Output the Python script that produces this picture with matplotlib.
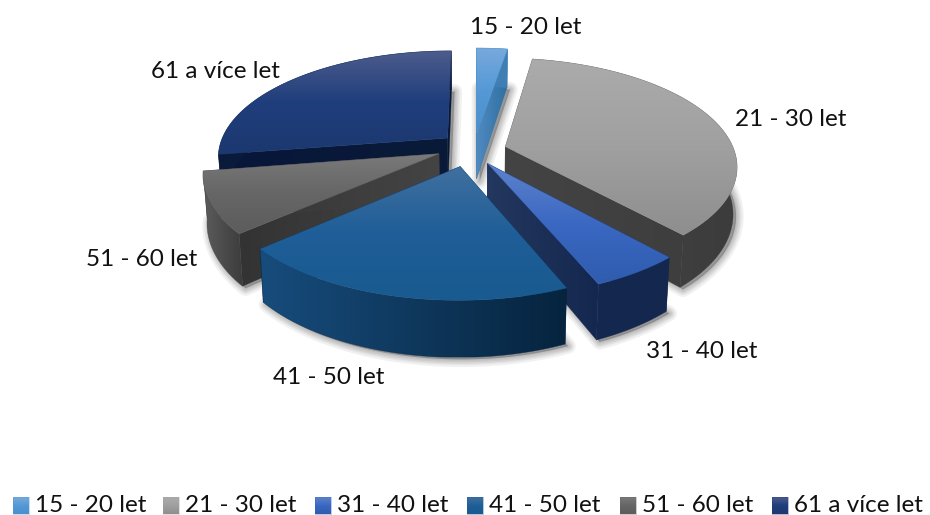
import numpy as np
import matplotlib
matplotlib.use("Agg")
import matplotlib.pyplot as plt
from matplotlib.colors import to_rgb
from matplotlib.patches import Polygon

plt.rcParams['font.family'] = ['Lato', 'DejaVu Sans']

# Data
categories = ['15 - 20 let', '21 - 30 let', '31 - 40 let', '41 - 50 let', '51 - 60 let', '61 a více let']
values = [2.6, 35.8, 5.3, 19.8, 9.0, 27.5]

# Colours of each slice: top surface stops, rim (left, right), cut wall
top_colors = [['#78a9dc', '#5499d6', '#4a90cf'],
              ['#ababab', '#a0a0a0', '#8e8e8e'],
              ['#5f83cc', '#3a68c2', '#2f5cae'],
              ['#41709f', '#1f5e98', '#195a90'],
              ['#7a7a7a', '#666666', '#5c5c5c'],
              ['#4d5c8c', '#1f3e7c', '#1c386f']]
rim_colors = [['#3f7fb5', '#3f7fb5'],
              ['#454545', '#3c3c3c'],
              ['#14284f', '#14284f'],
              ['#174c7c', '#06243e'],
              ['#5c5c5c', '#3c3c3c'],
              ['#0a1a3a', '#0a1a3a']]
wall_colors = [['#4f8ac0', '#2f6fa0'],
               ['#444444', '#3e3e3e'],
               ['#24375f', '#14284f'],
               ['#174c7c', '#06243e'],
               ['#333333', '#444444'],
               ['#08173a', '#0a1a38']]

# Pie geometry in pixels
cx, cy = 474, 150
radius = 229
squash = 0.459
persp = 0.17
explode = 0.148
depth = 46
draw_order = [5, 0, 1, 4, 2, 3]
nudge = [(0, -1), (-1, 1), (-5, 0), (-6, 1), (-4, -3), (-1, -2)]

label_pos = [(526, 28), (791, 120), (702, 351), (329, 377), (142, 260), (215, 71)]
legend_x = [13, 163, 315, 467, 620, 772]

fig = plt.figure(figsize=(9.3, 5.15), dpi=100)
ax = fig.add_axes([0, 0, 1, 1])
ax.set_xlim(0, 930)
ax.set_ylim(515, 0)
ax.axis('off')
ax.set_autoscale_on(False)


# Project a point of the pie plane (1 = radius) to the screen
def project(u, v, down=0.0):
    w = 1.0 / (1.0 - persp * v)
    x = cx + u * w * radius * (1 - 0.015 * (down > 0))
    y = cy + squash * v * w * radius + down * w
    return np.column_stack([x, y])


def gradient_poly(pts, stops, zorder, horizontal=False):
    pts = np.asarray(pts)
    rgb = np.array([to_rgb(c) for c in stops])
    pos = np.linspace(0, 1, len(stops))
    t = np.linspace(0, 1, 128)
    grad = np.column_stack([np.interp(t, pos, rgb[:, i]) for i in range(3)])
    grad = grad[np.newaxis, :, :] if horizontal else grad[:, np.newaxis, :]
    x0, x1 = pts[:, 0].min(), pts[:, 0].max()
    y0, y1 = pts[:, 1].min(), pts[:, 1].max()
    im = ax.imshow(grad, extent=(x0, x1, y1, y0), aspect='auto', zorder=zorder, interpolation='bilinear')
    clip = Polygon(pts, closed=True, transform=ax.transData, facecolor='none', edgecolor='none')
    im.set_clip_path(clip)
    # thin edge so the clipped border isn't jagged
    ax.add_patch(Polygon(pts, closed=True, facecolor='none', edgecolor=stops[len(stops) // 2],
                         linewidth=0.4, alpha=0.6, zorder=zorder + 0.01))


edges = np.cumsum([0] + values) / np.sum(values) * 2 * np.pi
z = 2
for i in draw_order:
    a0, a1 = edges[i], edges[i + 1]
    mid = (a0 + a1) / 2
    tip_u, tip_v = explode * np.sin(mid), -explode * np.cos(mid)
    th = np.linspace(a0, a1, 80)
    arc_u = tip_u + np.sin(th)
    arc_v = tip_v - np.cos(th)

    shift = np.array(nudge[i])
    tip_top = project(np.array([tip_u]), np.array([tip_v])) + shift
    tip_bot = project(np.array([tip_u]), np.array([tip_v]), depth) + shift
    arc_top = project(arc_u, arc_v) + shift
    arc_bot = project(arc_u, arc_v, depth) + shift

    # soft shadow under the slice
    outline = np.vstack([tip_bot, arc_bot]) + [3, 2]
    for lw in [11, 8, 6, 4, 2]:
        ax.add_patch(Polygon(outline, closed=True, facecolor='#000000', edgecolor='#000000',
                             linewidth=lw, alpha=0.055, zorder=z, joinstyle='round'))
    z += 1

    # cut walls
    for end_top, end_bot in [(arc_top[:1], arc_bot[:1]), (arc_top[-1:], arc_bot[-1:])]:
        gradient_poly(np.vstack([tip_top, end_top, end_bot, tip_bot]), wall_colors[i], z, horizontal=True)
        z += 1

    # outer rim
    gradient_poly(np.vstack([arc_top, arc_bot[::-1]]), rim_colors[i], z, horizontal=True)
    z += 1

    # top surface
    gradient_poly(np.vstack([tip_top, arc_top]), top_colors[i], z)
    z += 1

for name, (x, y) in zip(categories, label_pos):
    ax.text(x, y, name, ha='center', va='center', fontsize=17.5, color='#111111', zorder=z)

# legend row, swatches keep the slice gradient
for i, x in enumerate(legend_x):
    gradient_poly([(x, 497), (x + 16, 497), (x + 16, 514), (x, 514)], top_colors[i], z)
    ax.text(x + 22, 506, categories[i], ha='left', va='center', fontsize=17.5, color='#111111', zorder=z)

fig.savefig('out.png', dpi=100)
